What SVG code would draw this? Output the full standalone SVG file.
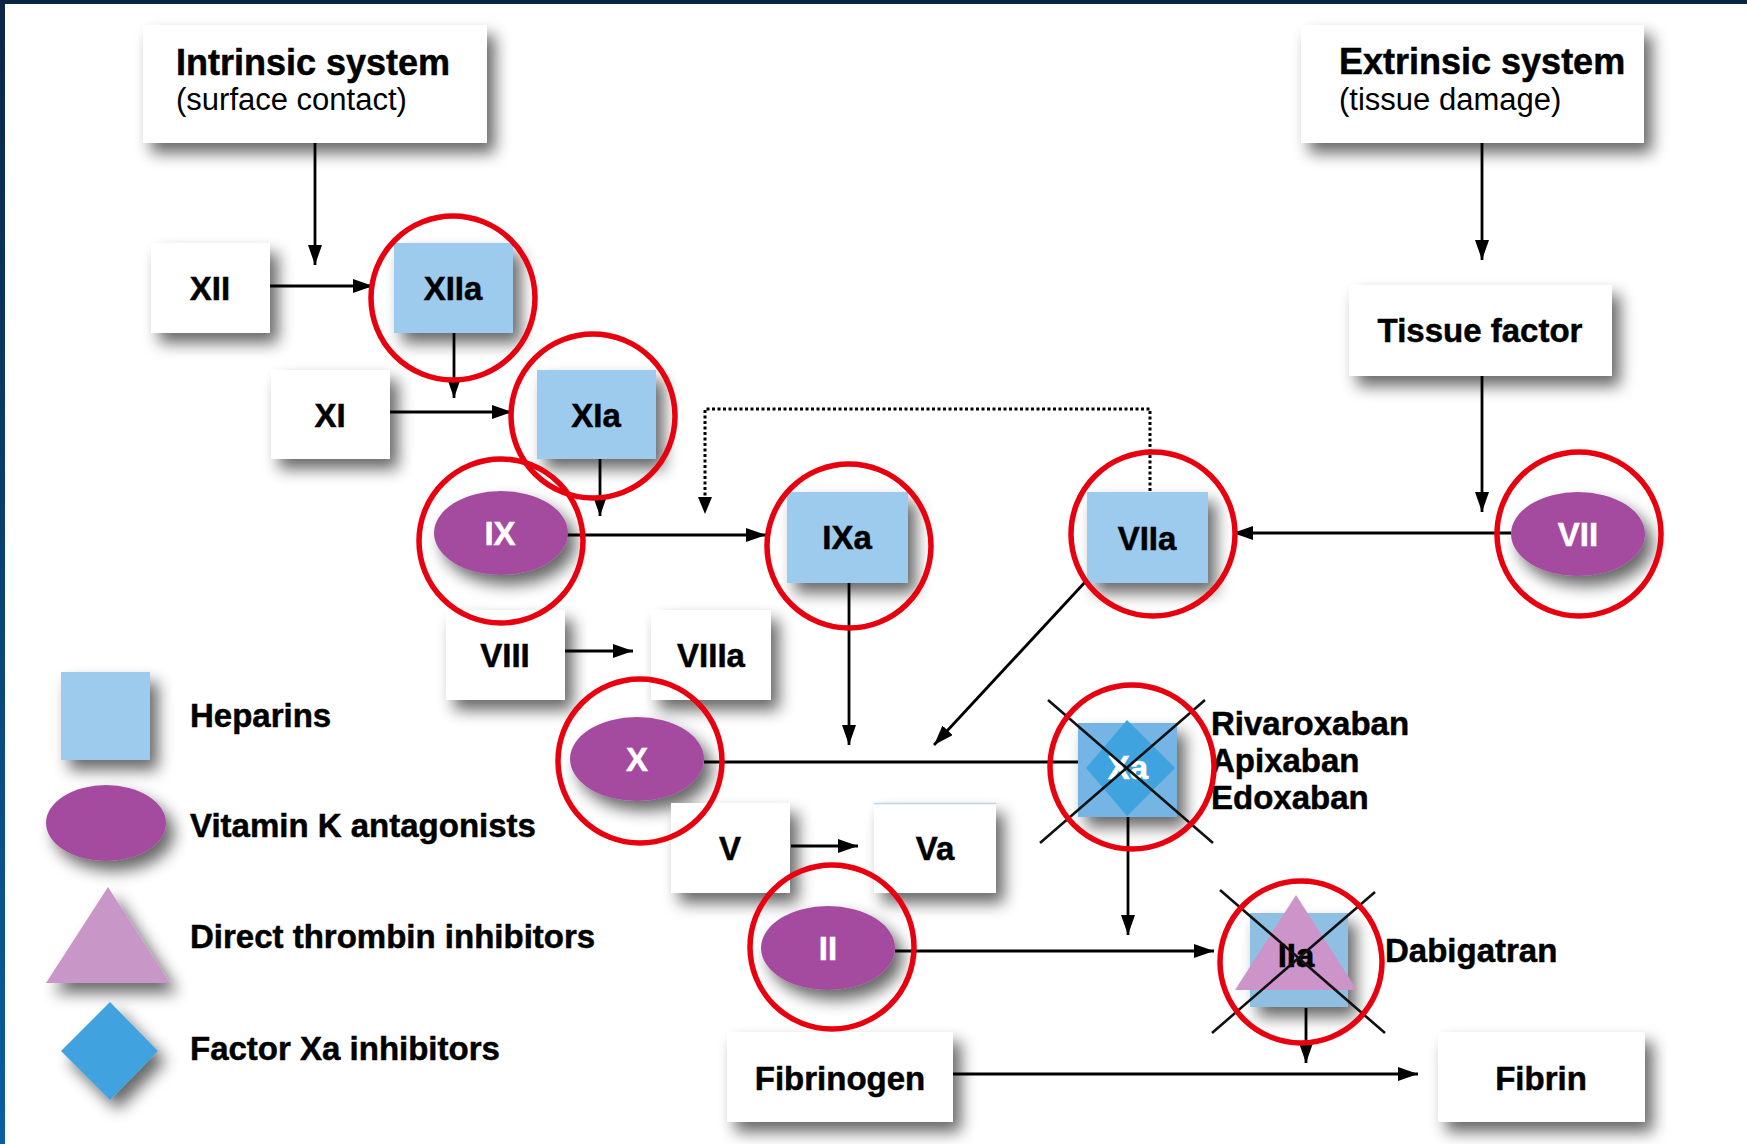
<svg xmlns="http://www.w3.org/2000/svg" width="1747" height="1144" viewBox="0 0 1747 1144">
<defs>
<linearGradient id="lb" x1="0" y1="0" x2="0" y2="1"><stop offset="0" stop-color="#0b2545"/><stop offset="1" stop-color="#0a5fa0"/></linearGradient>
<filter id="sh" x="-40%" y="-40%" width="190%" height="190%">
<feGaussianBlur in="SourceAlpha" stdDeviation="8"/>
<feOffset dx="8" dy="10" result="b"/>
<feComponentTransfer><feFuncA type="linear" slope="0.6"/></feComponentTransfer>
<feMerge><feMergeNode/><feMergeNode in="SourceGraphic"/></feMerge>
</filter>
<marker id="ah" markerWidth="20" markerHeight="14" viewBox="0 0 20 14" refX="20" refY="7" orient="auto" markerUnits="userSpaceOnUse"><path d="M0,0 L20,7 L0,14 Z" fill="#000"/></marker>
<style>
.box{fill:#fff;filter:url(#sh)}
.hep{fill:#9dcbee;filter:url(#sh)}
.vka{fill:#a54c9f;filter:url(#sh)}
.lbl{font-family:"Liberation Sans",Arial,sans-serif;font-weight:bold;font-size:33px;fill:#000;stroke:#000;stroke-width:0.5;text-anchor:middle}
.wl{fill:#fff;stroke:#fff}
.leg{font-family:"Liberation Sans",Arial,sans-serif;font-weight:bold;font-size:33px;fill:#000;stroke:#000;stroke-width:0.5}
.ttl{font-family:"Liberation Sans",Arial,sans-serif;font-weight:bold;font-size:36px;fill:#000;stroke:#000;stroke-width:0.5}
.sub{font-family:"Liberation Sans",Arial,sans-serif;font-size:31px;fill:#000}
.ln{stroke:#000;stroke-width:2.8;fill:none}
.arr{marker-end:url(#ah)}
.dot{stroke:#000;stroke-width:3;fill:none;stroke-dasharray:3 2.5}
.x{stroke:#111;stroke-width:2.6}
.rc{fill:none;stroke:#e8000f;stroke-width:5.5}
</style>
</defs>
<rect width="1747" height="1144" fill="#fff"/>
<rect x="0" y="0" width="1747" height="4" fill="#0b2545"/>
<rect x="0" y="0" width="5" height="1144" fill="url(#lb)"/>

<g id="legend">
<rect class="hep" x="61" y="672" width="89" height="88"/>
<text class="leg" x="190" y="727">Heparins</text>
<ellipse class="vka" cx="106" cy="823" rx="60" ry="38"/>
<text class="leg" x="190" y="837">Vitamin K antagonists</text>
<polygon points="108,887 170,983 46,983" fill="#c996c8" filter="url(#sh)"/>
<text class="leg" x="190" y="948">Direct thrombin inhibitors</text>
<polygon points="110,1002 158,1051 110,1100 61,1051" fill="#3fa3e0" filter="url(#sh)"/>
<text class="leg" x="190" y="1060">Factor Xa inhibitors</text>
</g>

<g id="connectors">
<line class="ln arr" x1="315" y1="143" x2="315" y2="265"/>
<line class="ln arr" x1="270" y1="286" x2="373" y2="286"/>
<line class="ln arr" x1="454" y1="333" x2="454" y2="398"/>
<line class="ln arr" x1="390" y1="412" x2="512" y2="412"/>
<line class="ln arr" x1="600" y1="459" x2="600" y2="516"/>
<line class="ln arr" x1="567" y1="535" x2="766" y2="535"/>
<polyline class="dot" points="1150,491 1150,409 705,409 705,500"/>
<path d="M698,497 L712,497 L705,514 Z" fill="#000"/>
<line class="ln arr" x1="565" y1="651" x2="633" y2="651"/>
<line class="ln arr" x1="849" y1="583" x2="849" y2="745"/>
<line class="ln arr" x1="1087" y1="580" x2="934" y2="745"/>
<line class="ln arr" x1="1482" y1="143" x2="1482" y2="260"/>
<line class="ln arr" x1="1482" y1="376" x2="1482" y2="512"/>
<line class="ln arr" x1="1511" y1="533" x2="1233" y2="533"/>
<line class="ln" x1="704" y1="762" x2="1088" y2="762"/>
<line class="ln arr" x1="791" y1="846" x2="858" y2="846"/>
<line class="ln arr" x1="1128" y1="817" x2="1128" y2="935"/>
<line class="ln arr" x1="895" y1="951" x2="1214" y2="951"/>
<line class="ln arr" x1="1306" y1="1008" x2="1306" y2="1063"/>
<line class="ln arr" x1="953" y1="1074" x2="1418" y2="1074"/>
</g>

<g id="intrinsic">
<rect class="box" x="143" y="25" width="344" height="118"/>
<text class="ttl" x="176" y="75">Intrinsic system</text>
<text class="sub" x="176" y="110">(surface contact)</text>
</g>
<g id="extrinsic">
<rect class="box" x="1301" y="25" width="343" height="118"/>
<text class="ttl" x="1339" y="74">Extrinsic system</text>
<text class="sub" x="1339" y="110">(tissue damage)</text>
</g>
<g id="XII"><rect class="box" x="151" y="243" width="119" height="90"/><text class="lbl" x="210" y="300">XII</text></g>
<g id="XIIa"><rect class="hep" x="394" y="243" width="119" height="90"/><text class="lbl" x="453" y="300">XIIa</text></g>
<g id="XI"><rect class="box" x="271" y="370" width="119" height="89"/><text class="lbl" x="330" y="427">XI</text></g>
<g id="XIa"><rect class="hep" x="537" y="370" width="119" height="89"/><text class="lbl" x="596" y="427">XIa</text></g>
<g id="IX"><ellipse class="vka" cx="501" cy="533" rx="67" ry="42"/><text class="lbl wl" x="500" y="545">IX</text></g>
<g id="IXa"><rect class="hep" x="787" y="492" width="121" height="91"/><text class="lbl" x="847" y="549">IXa</text></g>
<g id="VIIa"><rect class="hep" x="1087" y="492" width="121" height="91"/><text class="lbl" x="1147" y="550">VIIa</text></g>
<g id="tissue-factor"><rect class="box" x="1349" y="285" width="263" height="91"/><text class="lbl" x="1480" y="342">Tissue factor</text></g>
<g id="VII"><ellipse class="vka" cx="1578" cy="534" rx="67" ry="42"/><text class="lbl wl" x="1578" y="546">VII</text></g>
<g id="VIII"><rect class="box" x="446" y="610" width="119" height="90"/><text class="lbl" x="505" y="667">VIII</text></g>
<g id="VIIIa"><rect class="box" x="651" y="610" width="120" height="90"/><text class="lbl" x="711" y="667">VIIIa</text></g>
<g id="X"><ellipse class="vka" cx="637" cy="759" rx="67" ry="42"/><text class="lbl wl" x="637" y="771">X</text></g>
<g id="V"><rect class="box" x="671" y="803" width="119" height="90"/><text class="lbl" x="730" y="860">V</text></g>
<g id="Va"><rect class="box" x="874" y="803" width="122" height="90"/><line x1="874" y1="803.5" x2="996" y2="803.5" stroke="#b8d8ef" stroke-width="1.5"/><text class="lbl" x="935" y="860">Va</text></g>
<g id="Xa">
<rect x="1078" y="723" width="99" height="94" fill="#74b5e5" filter="url(#sh)"/>
<polygon points="1127,720 1175,768 1127,816 1086,768" fill="#3fa3e0"/>
<text class="lbl wl" x="1128" y="779">Xa</text>
<line class="x" x1="1048" y1="700" x2="1213" y2="843"/>
<line class="x" x1="1205" y1="700" x2="1040" y2="843"/>
<text class="leg" x="1211" y="735" font-size="32">Rivaroxaban</text>
<text class="leg" x="1211" y="772" font-size="32">Apixaban</text>
<text class="leg" x="1211" y="809" font-size="32">Edoxaban</text>
</g>
<g id="II"><ellipse class="vka" cx="828" cy="948" rx="67" ry="42"/><text class="lbl wl" x="828" y="960">II</text></g>
<g id="IIa">
<rect x="1250" y="913" width="98" height="94" fill="#8fc0e3" filter="url(#sh)"/>
<polygon points="1296,895 1357,990 1235,990" fill="#cc94c9"/>
<text class="lbl" x="1296" y="967">IIa</text>
<line class="x" x1="1220" y1="890" x2="1385" y2="1033"/>
<line class="x" x1="1375" y1="892" x2="1212" y2="1033"/>
<text class="leg" x="1385" y="962" font-size="32">Dabigatran</text>
</g>
<g id="fibrinogen"><rect class="box" x="727" y="1032" width="226" height="90"/><text class="lbl" x="840" y="1090">Fibrinogen</text></g>
<g id="fibrin"><rect class="box" x="1438" y="1032" width="207" height="90"/><text class="lbl" x="1541" y="1090">Fibrin</text></g>

<g id="red-circles">
<circle class="rc" cx="453" cy="298" r="82"/>
<circle class="rc" cx="593" cy="416" r="82"/>
<circle class="rc" cx="501" cy="541" r="82"/>
<circle class="rc" cx="849" cy="546" r="82"/>
<circle class="rc" cx="1153" cy="534" r="82"/>
<circle class="rc" cx="1579" cy="534" r="82"/>
<circle class="rc" cx="640" cy="761" r="82"/>
<circle class="rc" cx="1132" cy="767" r="82"/>
<circle class="rc" cx="832" cy="947" r="82"/>
<circle class="rc" cx="1301" cy="962" r="81"/>
</g>
</svg>
